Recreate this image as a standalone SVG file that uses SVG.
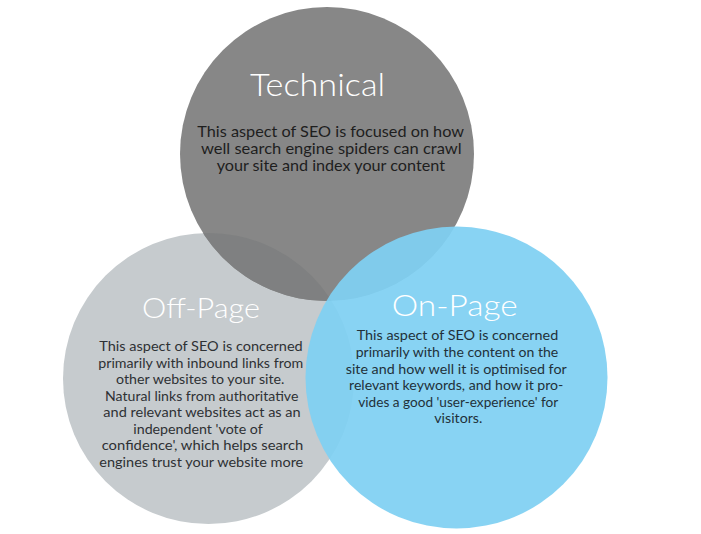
<svg xmlns="http://www.w3.org/2000/svg" width="701" height="534" viewBox="0 0 701 534">
<style>
.title{font-family:Lato,"Open Sans","Liberation Sans",sans-serif;font-weight:300;fill:#ffffff;text-anchor:middle}
.body{font-family:Lato,"Open Sans","Liberation Sans",sans-serif;font-weight:400;text-anchor:middle}
.tb{font-size:15px;fill:#1e1e1e}
.ob{font-size:13px;fill:#2e3134}
.nb{font-size:13px;fill:#22313a}
</style>
<defs>
<clipPath id="clipOff"><circle cx="208.5" cy="378.5" r="145.5"/></clipPath>
</defs>
<rect width="701" height="534" fill="#ffffff"/>
<g id="node-offpage-shape">
<circle cx="208.5" cy="378.5" r="145.5" fill="#c6cbce"/>
</g>
<g id="node-technical">
<circle cx="327" cy="154" r="147" fill="#878787"/>
<circle cx="327" cy="154" r="147" fill="#7f8081" clip-path="url(#clipOff)"/>
<text class="title" x="317.5" y="96" font-size="31" textLength="135" lengthAdjust="spacingAndGlyphs">Technical</text>
<text class="body tb" x="330.7" y="136.7" textLength="266.7" lengthAdjust="spacingAndGlyphs">This aspect of SEO is focused on how</text>
<text class="body tb" x="331.3" y="154" textLength="260.7" lengthAdjust="spacingAndGlyphs">well search engine spiders can crawl</text>
<text class="body tb" x="330.8" y="171" textLength="228.3" lengthAdjust="spacingAndGlyphs">your site and index your content</text>
</g>
<g id="node-offpage">
<text class="title" x="201" y="317.5" font-size="28" textLength="118" lengthAdjust="spacingAndGlyphs">Off-Page</text>
<text class="body ob" x="201" y="351" textLength="203.4" lengthAdjust="spacingAndGlyphs">This aspect of SEO is concerned</text>
<text class="body ob" x="200.8" y="367.5" textLength="205" lengthAdjust="spacingAndGlyphs">primarily with inbound links from</text>
<text class="body ob" x="200.2" y="384" textLength="168.3" lengthAdjust="spacingAndGlyphs">other websites to your site.</text>
<text class="body ob" x="201.7" y="400.5" textLength="193.3" lengthAdjust="spacingAndGlyphs">Natural links from authoritative</text>
<text class="body ob" x="202" y="417" textLength="197.4" lengthAdjust="spacingAndGlyphs">and relevant websites act as an</text>
<text class="body ob" x="198" y="433.5" textLength="129.4" lengthAdjust="spacingAndGlyphs">independent 'vote of</text>
<text class="body ob" x="202.5" y="450" textLength="201.6" lengthAdjust="spacingAndGlyphs">confidence', which helps search</text>
<text class="body ob" x="201.3" y="466.5" textLength="204" lengthAdjust="spacingAndGlyphs">engines trust your website more</text>
</g>
<g id="node-onpage">
<circle cx="456.5" cy="377.5" r="151" fill="rgb(127,208,242)" fill-opacity="0.93"/>
<text class="title" x="454.7" y="316" font-size="29" textLength="126" lengthAdjust="spacingAndGlyphs">On-Page</text>
<text class="body nb" x="457.5" y="340.3" textLength="201.6" lengthAdjust="spacingAndGlyphs">This aspect of SEO is concerned</text>
<text class="body nb" x="457" y="356.9" textLength="202.6" lengthAdjust="spacingAndGlyphs">primarily with the content on the</text>
<text class="body nb" x="456.2" y="373.5" textLength="221" lengthAdjust="spacingAndGlyphs">site and how well it is optimised for</text>
<text class="body nb" x="456.2" y="390.1" textLength="214.3" lengthAdjust="spacingAndGlyphs">relevant keywords, and how it pro-</text>
<text class="body nb" x="458.3" y="406.7" textLength="200" lengthAdjust="spacingAndGlyphs">vides a good 'user-experience' for</text>
<text class="body nb" x="458.3" y="423.3" textLength="48" lengthAdjust="spacingAndGlyphs">visitors.</text>
</g>
</svg>
